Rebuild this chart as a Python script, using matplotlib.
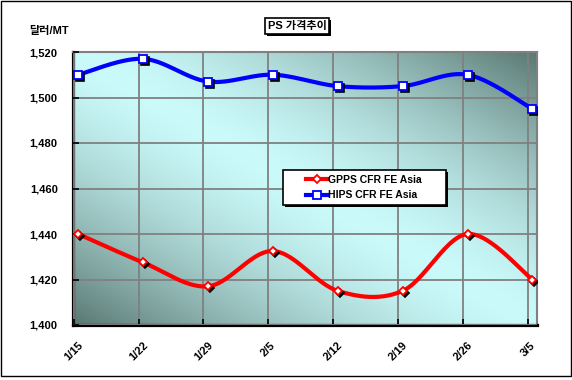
import numpy as np
import matplotlib.pyplot as plt
from matplotlib import patheffects
from matplotlib.transforms import offset_copy
from matplotlib.patches import Rectangle
from matplotlib.legend_handler import HandlerLine2D

plt.rcParams['font.family'] = ['Liberation Sans', 'Noto Sans CJK KR']

# data
dates = ['1/15', '1/22', '1/29', '2/5', '2/12', '2/19', '2/26', '3/5']
gpps = [1440, 1427.5, 1417, 1432.5, 1415, 1415, 1440, 1420]
hips = [1510, 1517, 1507, 1510, 1505, 1505, 1510, 1495]
yticks = [1400, 1420, 1440, 1460, 1480, 1500, 1520]


def smooth(ys, steps=30):
    # excel style smoothed line: bezier segments through the points
    p = np.column_stack([np.arange(len(ys), dtype=float), np.array(ys, float)])
    n = len(p)
    pts = []
    for i in range(n - 1):
        p0 = p[max(i - 1, 0)]
        p1 = p[i]
        p2 = p[i + 1]
        p3 = p[min(i + 2, n - 1)]
        c1 = p1 + (p2 - p0) / 6
        c2 = p2 - (p3 - p1) / 6
        t = np.linspace(0, 1, steps)[:, None]
        seg = ((1 - t) ** 3) * p1 + 3 * ((1 - t) ** 2) * t * c1 + 3 * (1 - t) * t ** 2 * c2 + t ** 3 * p2
        pts.append(seg)
    pts = np.vstack(pts)
    return pts[:, 0], pts[:, 1]


fig = plt.figure(figsize=(5.72, 3.80), dpi=100, facecolor='w')
ax = fig.add_axes([73 / 572, 1 - 325 / 380, 464 / 572, 273 / 380])

# background gradient
u = np.linspace(0, 1, 200)
v = np.linspace(0, 1, 200)
U, V = np.meshgrid(u, v)
t = np.abs(U - V) ** 1.5
light = np.array([202, 250, 250]) / 255
dark = np.array([90, 120, 114]) / 255
img = light[None, None, :] + (dark - light)[None, None, :] * t[:, :, None]
ax.imshow(img, extent=[0, 1, 0, 1], transform=ax.transAxes, aspect='auto',
          origin='upper', zorder=0)

x = np.arange(len(dates))
shadow = offset_copy(ax.transData, fig=fig, x=2, y=-2, units='dots')

series = [
    (gpps, 'red', 'D', 4.2, 'GPPS CFR FE Asia'),
    (hips, 'blue', 's', 5.5, 'HIPS CFR FE Asia'),
]
for vals, col, mk, ms, name in series:
    sx, sy = smooth(vals)
    ax.plot(sx, sy, color=col, lw=3, zorder=3, solid_capstyle='butt')
    ax.plot(x, vals, ls='none', marker=mk, ms=ms, mfc='k', mec='k', mew=1.2,
            transform=shadow, zorder=4)
    ax.plot(x, vals, ls='none', marker=mk, ms=ms, mfc='white', mec=col, mew=1.3,
            zorder=5)
    # legend proxy
    ax.plot([], [], color=col, lw=3, marker=mk, ms=ms, mfc='white', mec=col,
            mew=1.3, label=name + '       ')

ax.set_xlim(-0.08, 7.07)
ax.set_ylim(1400, 1520)
ax.set_yticks(yticks)
ax.set_yticklabels([f'{v:,}' for v in yticks], fontweight='bold')
ax.set_xticks(x - 0.07)
ax.set_xticklabels(dates, rotation=45, ha='center', fontweight='bold')

ax.grid(True, color='#808080', lw=1.3, zorder=1)
ax.set_axisbelow(False)
for gl in ax.get_xgridlines() + ax.get_ygridlines():
    gl.set_zorder(1)

ax.tick_params(axis='y', direction='in', length=4, width=1.2, color='k',
               labelsize=8, pad=11)
ax.tick_params(axis='x', direction='in', length=4, width=1.2, color='k',
               labelsize=8, pad=11)

for side in ['left', 'bottom']:
    ax.spines[side].set_color('k')
    ax.spines[side].set_linewidth(2.3)
for side in ['top', 'right']:
    ax.spines[side].set_color('#808080')
    ax.spines[side].set_linewidth(1.5)

leg = ax.legend(loc='upper left', bbox_to_anchor=(0.4526, 0.568),
                borderaxespad=0, prop={'size': 7.5, 'weight': 'bold'},
                frameon=True, fancybox=False,
                handlelength=3.8, handletextpad=0.05, labelspacing=0.55,
                borderpad=0.45,
                handler_map={plt.Line2D: HandlerLine2D(numpoints=1, xpad=1.8)})
frame = leg.get_frame()
frame.set_edgecolor('k')
frame.set_linewidth(1.2)
frame.set_facecolor('white')
frame.set_alpha(1)
frame.set_path_effects([patheffects.SimplePatchShadow(offset=(1.5, -1.5),
                                                      shadow_rgbFace='k', alpha=1),
                        patheffects.Normal()])
leg.set_zorder(6)

title = fig.text(297 / 572, 1 - 26 / 380, 'PS 가격추이', ha='center', va='center',
                 fontsize=8, fontweight='bold',
                 bbox=dict(boxstyle='square,pad=0.25', fc='white', ec='k', lw=1.2))
title.get_bbox_patch().set_path_effects([
    patheffects.SimplePatchShadow(offset=(1.5, -1.5), shadow_rgbFace='k', alpha=1),
    patheffects.Normal()])

fig.text(49 / 572, 1 - 31 / 380, '달러/MT', ha='center', va='center', fontsize=8,
         fontweight='bold')

# outer border of the chart
fig.patches.append(Rectangle((1 / 572, 4 / 380), 570 / 572, 375 / 380,
                             transform=fig.transFigure, fill=False,
                             ec='k', lw=1))

fig.savefig('out.png', dpi=100)
